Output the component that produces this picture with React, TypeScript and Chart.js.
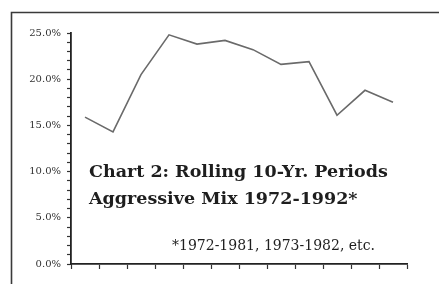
import React, { useEffect, useRef } from "react";
import { Chart, registerables } from "chart.js";

Chart.register(...registerables);

const periods = [
  "1972-1981", "1973-1982", "1974-1983", "1975-1984", "1976-1985", "1977-1986",
  "1978-1987", "1979-1988", "1980-1989", "1981-1990", "1982-1991", "1983-1992",
];
const returns = [15.9, 14.3, 20.5, 24.8, 23.8, 24.2, 23.2, 21.6, 21.9, 16.1, 18.8, 17.5];
const titleLines = ["Chart 2: Rolling 10-Yr. Periods", "Aggressive Mix 1972-1992*"];
const footnote = "*1972-1981, 1973-1982, etc.";

const framePlugin = {
  id: "frameAndText",
  afterDraw(chart: any) {
    const ctx = chart.ctx;
    ctx.save();
    ctx.strokeStyle = "#3a3a3a";
    ctx.lineWidth = 1.6;
    ctx.beginPath();
    ctx.moveTo(11.5, 284);
    ctx.lineTo(11.5, 12.5);
    ctx.lineTo(439, 12.5);
    ctx.stroke();

    ctx.fillStyle = "#1e1e1e";
    ctx.textBaseline = "alphabetic";
    ctx.textAlign = "left";
    ctx.font = "bold 17.5px 'DejaVu Serif'";
    ctx.fillText(titleLines[0], 89, 177);
    ctx.fillText(titleLines[1], 89, 203.5);
    ctx.font = "14px 'DejaVu Serif'";
    ctx.fillText(footnote, 172, 250);
    ctx.restore();
  },
};

export default function App() {
  const ref = useRef<HTMLCanvasElement>(null);
  useEffect(() => {
    if (!ref.current) return;
    const chart = new Chart(ref.current, {
      type: "line",
      data: {
        labels: periods,
        datasets: [
          {
            data: returns,
            borderColor: "#6a6a6a",
            borderWidth: 1.6,
            pointRadius: 0,
            tension: 0,
            fill: false,
          },
        ],
      },
      options: {
        animation: false,
        responsive: false,
        devicePixelRatio: 1,
        layout: { padding: { left: 0, right: 32, top: 33, bottom: 14 } },
        plugins: { legend: { display: false }, tooltip: { enabled: false } },
        scales: {
          x: {
            offset: true,
            grid: {
              offset: true,
              drawOnChartArea: false,
              drawTicks: true,
              tickLength: 5,
              tickColor: "#333",
              tickWidth: 1.2,
            },
            border: { color: "#222", width: 1.8 },
            ticks: { display: false },
            afterFit(scale: any) {
              scale.height = 6;
            },
          },
          y: {
            min: 0,
            max: 25,
            grid: {
              drawOnChartArea: false,
              drawTicks: true,
              tickLength: 4,
              tickColor: "#333",
              tickWidth: 1.2,
            },
            border: { color: "#222", width: 1.8 },
            ticks: {
              stepSize: 1,
              autoSkip: false,
              padding: 6,
              color: "#333",
              font: { family: "'DejaVu Serif'", size: 10 },
              callback: (v: any) => (Number(v) % 5 === 0 ? Number(v).toFixed(1) + "%" : ""),
            },
            afterFit(scale: any) {
              scale.width = 71;
            },
          },
        },
      },
      plugins: [framePlugin],
    });
    return () => chart.destroy();
  }, []);
  return (
    <div style={{ position: "fixed", left: 0, top: 0, width: 439, height: 284, background: "#fff" }}>
      <canvas ref={ref} width={439} height={284} style={{ display: "block" }} />
    </div>
  );
}
